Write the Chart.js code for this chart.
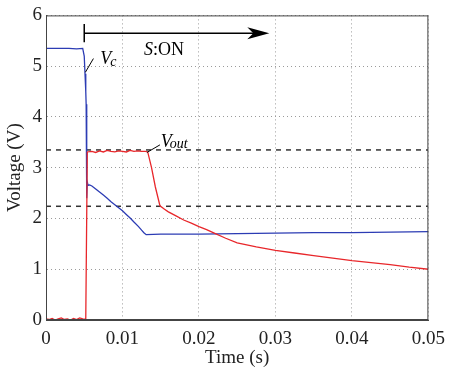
<!DOCTYPE html>
<html><head><meta charset="utf-8">
<script src="https://cdn.jsdelivr.net/npm/chart.js@4/dist/chart.umd.min.js"></script>
<style>html,body{margin:0;padding:0;background:#fff}#wrap{width:453px;height:369px}</style>
</head><body><div id="wrap"><canvas id="c" width="453" height="369"></canvas></div>
<script>
const xTicks = [0, 0.01, 0.02, 0.03, 0.04, 0.05];
const yTicks = [0, 1, 2, 3, 4, 5, 6];
const vcT = [0, 0.001, 0.002, 0.003, 0.004, 0.0048, 0.0050, 0.0051, 0.0052, 0.00525, 0.0053, 0.00535, 0.0054, 0.0055, 0.0057, 0.006, 0.0065, 0.007, 0.0075, 0.008, 0.0085, 0.009, 0.0095, 0.010, 0.0105, 0.011, 0.0115, 0.0121, 0.0125, 0.0128, 0.0131, 0.015, 0.02, 0.025, 0.03, 0.035, 0.04, 0.045, 0.05];
const vcV = [5.35, 5.35, 5.35, 5.35, 5.34, 5.35, 5.2, 4.85, 4.5, 4.25, 3.75, 2.4, 2.72, 2.65, 2.66, 2.64, 2.58, 2.52, 2.46, 2.4, 2.33, 2.27, 2.21, 2.15, 2.08, 2.01, 1.93, 1.84, 1.77, 1.72, 1.68, 1.69, 1.69, 1.70, 1.71, 1.72, 1.72, 1.73, 1.74];
const voutT = [0, 0.0004, 0.0008, 0.0012, 0.0016, 0.002, 0.0024, 0.0028, 0.0032, 0.0036, 0.004, 0.0044, 0.0048, 0.0052, 0.0054, 0.006, 0.0065, 0.007, 0.0075, 0.008, 0.0085, 0.009, 0.0095, 0.010, 0.0105, 0.011, 0.0115, 0.012, 0.0125, 0.013, 0.0133, 0.0138, 0.0143, 0.0149, 0.0155, 0.016, 0.017, 0.018, 0.019, 0.02, 0.021, 0.022, 0.0235, 0.025, 0.0275, 0.03, 0.0325, 0.035, 0.0375, 0.04, 0.0425, 0.045, 0.0475, 0.05];
const voutV = [0.02, 0.01, 0.03, 0.0, 0.02, 0.04, 0.01, 0.02, 0.0, 0.03, 0.01, 0.04, 0.02, 0.01, 3.31, 3.32, 3.30, 3.33, 3.31, 3.34, 3.32, 3.31, 3.33, 3.32, 3.31, 3.34, 3.32, 3.33, 3.32, 3.32, 3.31, 3.0, 2.62, 2.25, 2.18, 2.13, 2.05, 1.97, 1.91, 1.84, 1.78, 1.71, 1.61, 1.52, 1.44, 1.37, 1.32, 1.27, 1.22, 1.17, 1.13, 1.09, 1.04, 1.0];
const refHigh = 3.35;
const refLow = 2.24;

const pts = (t, v) => t.map((x, i) => ({x, y: v[i]}));
const SERIF = '"Times New Roman", "Liberation Serif", Times, serif';

const annot = {
  id: 'annot',
  afterDraw(chart) {
    const {ctx, chartArea: a, scales: {x, y}} = chart;
    ctx.save();
    ctx.strokeStyle = '#444'; ctx.lineWidth = 1; ctx.setLineDash([]);
    ctx.strokeRect(a.left + 0.5, a.top + 0.5, a.right - a.left - 1, a.bottom - a.top - 1);
    ctx.strokeStyle = '#000'; ctx.fillStyle = '#000';
    // S:ON arrow
    const x0 = x.getPixelForValue(0.005), x1 = x.getPixelForValue(0.0292);
    const yA = y.getPixelForValue(5.65);
    ctx.lineWidth = 1.5;
    ctx.beginPath();
    ctx.moveTo(x0, y.getPixelForValue(5.83)); ctx.lineTo(x0, y.getPixelForValue(5.47));
    ctx.moveTo(x0, yA); ctx.lineTo(x1 - 12, yA); ctx.stroke();
    ctx.beginPath(); ctx.moveTo(x1, yA); ctx.lineTo(x1 - 22, yA - 6); ctx.lineTo(x1 - 16, yA); ctx.lineTo(x1 - 22, yA + 6); ctx.closePath(); ctx.fill();
    ctx.textBaseline = 'alphabetic';
    ctx.font = 'italic 18px ' + SERIF;
    let sx = x.getPixelForValue(0.0128), sy = y.getPixelForValue(5.22);
    ctx.fillText('S', sx, sy);
    let w = ctx.measureText('S').width;
    ctx.font = '18px ' + SERIF;
    ctx.fillText(':ON', sx + w, sy);
    // Vc label
    ctx.lineWidth = 1;
    ctx.beginPath();
    ctx.moveTo(x.getPixelForValue(0.00515), y.getPixelForValue(4.88));
    ctx.lineTo(x.getPixelForValue(0.0062), y.getPixelForValue(5.15)); ctx.stroke();
    ctx.font = 'italic 18px ' + SERIF;
    let vx = x.getPixelForValue(0.0071), vy = y.getPixelForValue(5.05);
    ctx.fillText('V', vx, vy);
    w = ctx.measureText('V').width;
    ctx.font = 'italic 14px ' + SERIF;
    ctx.fillText('c', vx + w - 1, vy + 2);
    // Vout label
    ctx.beginPath();
    ctx.moveTo(x.getPixelForValue(0.0132), y.getPixelForValue(3.3));
    ctx.lineTo(x.getPixelForValue(0.0149), y.getPixelForValue(3.45)); ctx.stroke();
    ctx.font = 'italic 18px ' + SERIF;
    vx = x.getPixelForValue(0.0150); vy = y.getPixelForValue(3.41);
    ctx.fillText('V', vx, vy);
    w = ctx.measureText('V').width;
    ctx.font = 'italic 14px ' + SERIF;
    ctx.fillText('out', vx + w - 2, vy + 1);
    ctx.restore();
  }
};

new Chart(document.getElementById('c'), {
  type: 'line',
  data: {
    datasets: [
      {label: 'Vout', data: pts(voutT, voutV), borderColor: '#e8272b', borderWidth: 1.3, pointRadius: 0, tension: 0, order: 1},
      {label: 'Vc', data: pts(vcT, vcV), borderColor: '#2c3cb4', borderWidth: 1.3, pointRadius: 0, tension: 0, order: 2},
      {label: 'ref1', data: [{x: 0, y: refHigh}, {x: 0.05, y: refHigh}], borderColor: '#333', borderWidth: 1.5, borderDash: [5, 5], pointRadius: 0, order: 3},
      {label: 'ref2', data: [{x: 0, y: refLow}, {x: 0.05, y: refLow}], borderColor: '#333', borderWidth: 1.5, borderDash: [5, 5], pointRadius: 0, order: 4}
    ]
  },
  options: {
    animation: false, responsive: false,
    layout: {padding: {left: 0, right: 20, top: 15, bottom: 0}},
    plugins: {legend: {display: false}, tooltip: {enabled: false}},
    scales: {
      x: {
        type: 'linear', min: 0, max: 0.05,
        afterBuildTicks: s => { s.ticks = xTicks.map(v => ({value: v})); },
        afterFit: s => { s.height = 49; },
        grid: {display: true, drawOnChartArea: true, color: '#9a9a9a', drawTicks: false, lineWidth: 1},
        border: {display: true, color: '#444', dash: [1, 3]},
        ticks: {color: '#222', padding: 8, maxRotation: 0, font: {family: SERIF, size: 19},
          callback: v => v === 0 ? '0' : v.toFixed(2)},
        title: {display: true, text: 'Time (s)', color: '#222', font: {family: SERIF, size: 19}, padding: {top: 0, bottom: 0}}
      },
      y: {
        type: 'linear', min: 0, max: 6,
        afterBuildTicks: s => { s.ticks = yTicks.map(v => ({value: v})); },
        afterFit: s => { s.width = 46; },
        grid: {display: true, drawOnChartArea: true, color: '#9a9a9a', drawTicks: false, lineWidth: 1},
        border: {display: true, color: '#444', dash: [1, 3]},
        ticks: {color: '#222', padding: 4, font: {family: SERIF, size: 19}},
        title: {display: true, text: 'Voltage (V)', color: '#222', font: {family: SERIF, size: 19}, padding: {top: 4, bottom: 0}}
      }
    }
  },
  plugins: [annot]
});
</script></body></html>
